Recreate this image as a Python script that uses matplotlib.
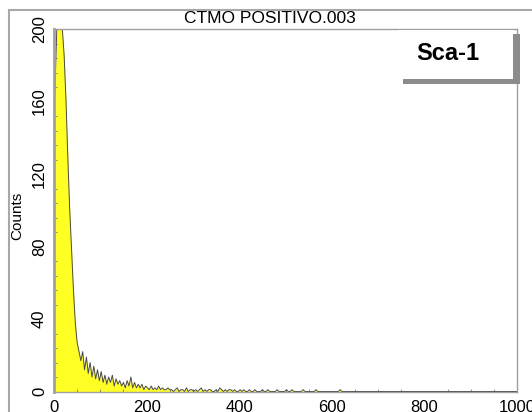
import matplotlib
matplotlib.use("Agg")
import matplotlib.pyplot as plt
from matplotlib.patches import Rectangle
from matplotlib.ticker import MultipleLocator
import numpy as np

plt.rcParams['font.family'] = ['Liberation Sans', 'DejaVu Sans']

# Histogram (bin width 4 channels, bin starts 0..996)
bin_width = 4
counts = [
    165, 200, 200, 200, 200, 185, 160, 128, 100, 78, 56, 38, 27, 22, 17, 22, 12, 19, 10, 16, 8, 14, 7, 12, 6,
    11, 5, 9, 4, 8, 5, 9, 3, 7, 4, 6, 3, 5, 2, 6, 3, 8, 2, 5, 2, 4, 2, 4, 1, 3,
    2, 1, 3, 1, 2, 1, 3, 1, 2, 1, 1, 2, 1, 1, 0, 1, 2, 0, 1, 1, 0, 2, 0, 1, 1,
    0, 1, 0, 1, 2, 0, 1, 0, 1, 1, 0, 0, 1, 0, 2, 1, 0, 1, 0, 1, 1, 0, 1, 0, 0,
    1, 0, 1, 0, 0, 1, 0, 0, 1, 0, 0, 0, 1, 0, 0, 1, 0, 0, 0, 0, 1, 0, 0, 0, 0,
    1, 0, 0, 1, 0, 0, 0, 0, 0, 1, 0, 0, 0, 0, 0, 0, 1, 0, 0, 0, 0, 0, 0, 0, 0,
    0, 0, 0, 0, 1, 0, 0, 0, 0, 0, 0, 0, 0, 0, 0, 0, 0, 0, 0, 0, 0, 0, 0, 0, 0,
    0, 0, 0, 0, 0, 0, 0, 0, 0, 0, 0, 0, 0, 0, 0, 0, 0, 0, 0, 0, 0, 0, 0, 0, 0,
    0, 0, 0, 0, 0, 0, 0, 0, 0, 0, 0, 0, 0, 0, 0, 0, 0, 0, 0, 0, 0, 0, 0, 0, 0,
    0, 0, 0, 0, 0, 0, 0, 0, 0, 0, 0, 0, 0, 0, 0, 0, 0, 0, 0, 0, 0, 0, 0, 0, 0,
]
x_ticks = [0, 200, 400, 600, 800, 1000]
y_ticks = [0, 40, 80, 120, 160, 200]
title = "CTMO POSITIVO.003"
marker_label = "Sca-1"
y_label = "Counts"

W, H = 532, 412
fig = plt.figure(figsize=(W / 100, H / 100), dpi=100)
fig.patch.set_facecolor('white')

def fx(px):
    return px / W

def fy(py):
    return (H - py) / H

# outer frame
fig.patches.append(Rectangle((fx(9), fy(430)), fx(540) - fx(9), fy(10) - fy(430),
                             transform=fig.transFigure, fill=False,
                             edgecolor='#a8a8a8', linewidth=1.5))

ax = fig.add_axes([fx(54), fy(391.5), fx(517) - fx(54), fy(29) - fy(391.5)])
centers = np.arange(len(counts)) * bin_width + bin_width / 2
vals = np.array(counts, dtype=float)
xs = np.concatenate([[0], centers, [1000]])
ys = np.concatenate([[vals[0]], vals, [0]])
ax.fill_between(xs, ys, color='#ffff26', linewidth=0)
ax.plot(xs, ys, color='#4a4a4a', linewidth=0.7)

ax.set_xlim(0, 1000)
ax.set_ylim(0, 200)
ax.set_xticks(x_ticks)
ax.set_yticks(y_ticks)
ax.xaxis.set_minor_locator(MultipleLocator(50))
ax.yaxis.set_minor_locator(MultipleLocator(8))
ax.tick_params(which='major', length=0, labelsize=12, colors='black')
ax.tick_params(axis='x', which='major', pad=6)
ax.tick_params(axis='y', which='major', pad=5)
ax.tick_params(which='minor', direction='in', length=2.5, width=0.6, color='#777777')
for lbl in ax.get_yticklabels():
    lbl.set_rotation(90)
    lbl.set_va('center')
for s in ax.spines.values():
    s.set_color('#a0a0a0')
    s.set_linewidth(1.0)
ax.spines['left'].set_linewidth(2.0)

fig.text(fx(17), fy(216), y_label, rotation=90, ha='center', va='center', fontsize=11)
fig.text(fx(270), fy(23), title, ha='center', va='baseline', fontsize=12.5)

# label box with drop shadow
fig.patches.append(Rectangle((fx(403), fy(83.5)), fx(519.5) - fx(403), fy(34) - fy(83.5),
                             transform=fig.transFigure, facecolor='#8c8c8c', edgecolor='none'))
fig.patches.append(Rectangle((fx(398), fy(79)), fx(513) - fx(398), fy(30) - fy(79),
                             transform=fig.transFigure, facecolor='white', edgecolor='none'))
fig.text(fx(447.5), fy(54), marker_label, ha='center', va='center', fontsize=17,
         fontweight='bold')

fig.savefig('out.png', dpi=100)
